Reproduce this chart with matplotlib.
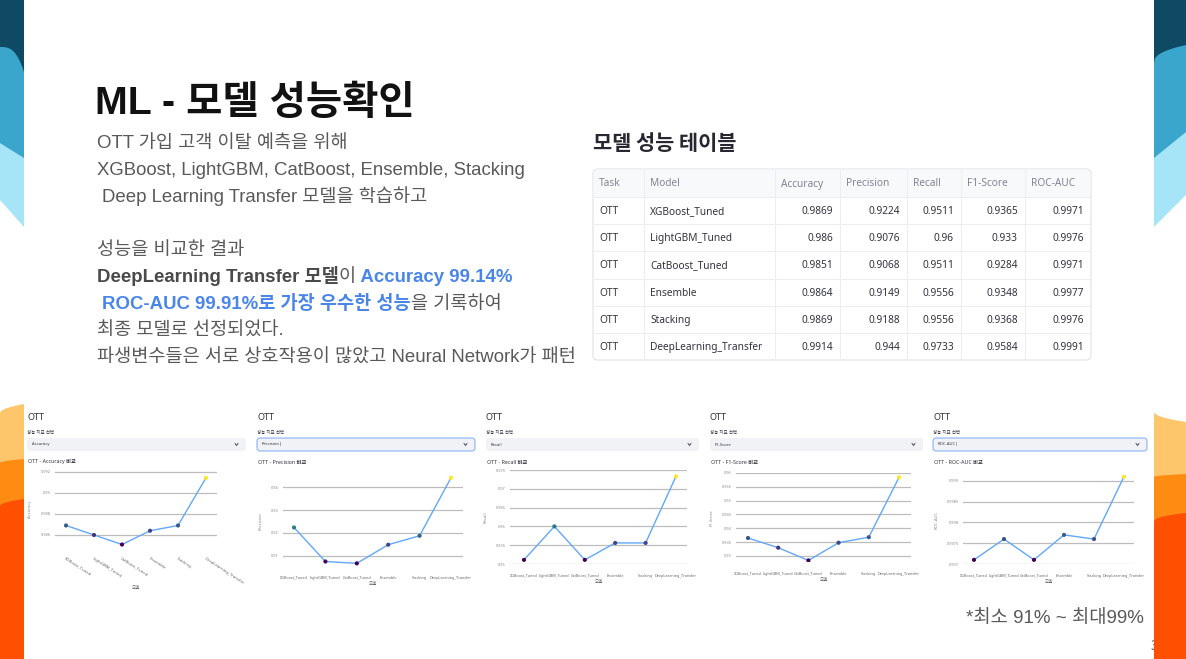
import numpy as np
import matplotlib
matplotlib.use("Agg")
import matplotlib.pyplot as plt
from matplotlib.patches import Polygon, FancyBboxPatch
from matplotlib import cm, colors

W, H = 1186, 659

# ---- data ----
task = "OTT"
models = ["XGBoost_Tuned", "LightGBM_Tuned", "CatBoost_Tuned", "Ensemble",
          "Stacking", "DeepLearning_Transfer"]
accuracy = [0.9869, 0.986, 0.9851, 0.9864, 0.9869, 0.9914]
precision = [0.9224, 0.9076, 0.9068, 0.9149, 0.9188, 0.944]
recall = [0.9511, 0.96, 0.9511, 0.9556, 0.9556, 0.9733]
f1_score = [0.9365, 0.933, 0.9284, 0.9348, 0.9368, 0.9584]
roc_auc = [0.9971, 0.9976, 0.9971, 0.9977, 0.9976, 0.9991]
columns = ["Task", "Model", "Accuracy", "Precision", "Recall", "F1-Score", "ROC-AUC"]
acc_ticks = [0.986, 0.988, 0.99, 0.992]
prec_ticks = [0.91, 0.92, 0.93, 0.94]
rec_ticks = [0.95, 0.955, 0.96, 0.965, 0.97, 0.975]
f1_ticks = [0.93, 0.935, 0.94, 0.945, 0.95, 0.955, 0.96]
roc_ticks = [0.997, 0.9975, 0.998, 0.9985, 0.999]

GRAY = "#595959"
BLUE = "#4a86e8"
KFONT = ["Liberation Sans", "Noto Sans CJK KR"]
plt.rcParams["font.family"] = ["Noto Sans", "Noto Sans CJK KR", "DejaVu Sans"]

fig = plt.figure(figsize=(W / 100, H / 100), dpi=100)
bg = fig.add_axes([0, 0, 1, 1])
bg.set_xlim(0, W)
bg.set_ylim(H, 0)
bg.axis("off")


# ---- decorative corner strips ----
def curve(xa, ya, xb, yb, k, n=40):
    t = np.linspace(0, 1, n)
    return xa + (xb - xa) * t, ya + (yb - ya) * t ** k


def strip(xa, ya, xb, yb, k, color, edge):
    cx, cy = curve(xa, ya, xb, yb, k)
    pts = [(xa, edge), (xb, edge)] + list(zip(cx[::-1], cy[::-1]))
    bg.add_patch(Polygon(pts, closed=True, fc=color, ec="none", zorder=5))


strip(0, 200, 24, 227, 1, "#a6e4f8", 0)
strip(0, 143, 24, 158, 1, "#3ba6cb", 0)
strip(0, 47, 24, 72, 3, "#0e4a63", 0)
strip(1154, 227, 1186, 195, 1, "#a6e4f8", 0)
strip(1154, 158, 1186, 132, 1, "#3ba6cb", 0)
strip(1154, 63, 1186, 45, 0.4, "#0e4a63", 0)
strip(0, 413, 24, 404, 0.5, "#fec66a", H)
strip(0, 463, 24, 459, 0.5, "#ff8c12", H)
strip(0, 506, 24, 499, 0.5, "#ff4f00", H)
strip(1154, 412, 1186, 422, 0.5, "#fec66a", H)
strip(1154, 477, 1186, 474, 0.5, "#ff8c12", H)
strip(1154, 522, 1186, 513, 0.4, "#ff4f00", H)

# ---- title and body text ----
bg.text(95, 114, "ML - 모델 성능확인", family=KFONT, weight="bold", size=28.4,
        color="#111111", va="baseline")

lines = [
    [("OTT 가입 고객 이탈 예측을 위해", "normal", GRAY)],
    [("XGBoost, LightGBM, CatBoost, Ensemble, Stacking", "normal", GRAY)],
    [("Deep Learning Transfer 모델을 학습하고", "normal", GRAY)],
    [],
    [("성능을 비교한 결과", "normal", GRAY)],
    [("DeepLearning Transfer 모델", "bold", "#4a4a4a"), ("이", "normal", GRAY),
     (" Accuracy 99.14%", "bold", BLUE)],
    [("ROC-AUC 99.91%로 가장 우수한 성능", "bold", BLUE), ("을 기록하여", "normal", GRAY)],
    [("최종 모델로 선정되었다.", "normal", GRAY)],
    [("파생변수들은 서로 상호작용이 많았고 Neural Network가 패턴", "normal", GRAY)],
]
line_x = [97, 97, 102, 97, 97, 97, 102, 97, 97]
renderer = fig.canvas.get_renderer()
for i, segs in enumerate(lines):
    x = line_x[i]
    y = 148 + i * 26.8
    for s, w, c in segs:
        t = bg.text(x, y, s, family=KFONT, weight=w, color=c, size=13.4, va="baseline")
        x += t.get_window_extent(renderer).width

# ---- table ----
bg.text(593, 150, "모델 성능 테이블", family=["Noto Sans CJK KR"], weight="bold",
        size=15, color="#262730", va="baseline")
col_x = [593, 644, 775, 840, 907, 961, 1025, 1091]
ty0, hh, rh = 169, 28, 27.17
ty1 = ty0 + hh + rh * len(models)
bg.add_patch(FancyBboxPatch((col_x[0], ty0), col_x[-1] - col_x[0], ty1 - ty0,
                            boxstyle="round,pad=0,rounding_size=5",
                            fc="white", ec="#e3e5ea", lw=0.9, zorder=2))
bg.add_patch(FancyBboxPatch((col_x[0] + 0.5, ty0 + 0.5), col_x[-1] - col_x[0] - 1, hh,
                            boxstyle="round,pad=0,rounding_size=4",
                            fc="#f8f9fb", ec="none", zorder=2))
for cx in col_x[1:-1]:
    bg.plot([cx, cx], [ty0, ty1], color="#eceef2", lw=0.8, zorder=3)
for r in range(len(models)):
    yy = ty0 + hh + r * rh
    bg.plot([col_x[0], col_x[-1]], [yy, yy], color="#eceef2", lw=0.8, zorder=3)
for j, name in enumerate(columns):
    bg.text(col_x[j] + 6, ty0 + hh / 2 + 3.5, name, size=7.3, color="#808495",
            va="baseline", zorder=4)
table_vals = [accuracy, precision, recall, f1_score, roc_auc]
for r, m in enumerate(models):
    yb = ty0 + hh + r * rh + rh / 2 + 3.5
    bg.text(col_x[0] + 6, yb, task, size=7.3, color="#31333f", va="baseline", zorder=4)
    bg.text(col_x[1] + 6, yb, m, size=7.3, color="#31333f", va="baseline", zorder=4)
    for j, vals in enumerate(table_vals):
        bg.text(col_x[j + 3] - 7, yb, f"{vals[r]:g}", size=7.3, color="#31333f",
                va="baseline", ha="right", zorder=4)

# ---- small metric charts ----
panels = [
    dict(metric="Accuracy", vals=accuracy, ticks=acc_ticks, left=27, right=246,
         box=(55, 217, 471, 548), p=(66, 206), ylim=(0.98477, 0.99205), rot=True, focus=False),
    dict(metric="Precision", vals=precision, ticks=prec_ticks, left=257, right=475,
         box=(283, 463, 475, 566), p=(294, 451), ylim=(0.90565, 0.94522), rot=False, focus=True),
    dict(metric="Recall", vals=recall, ticks=rec_ticks, left=486, right=699,
         box=(510, 687, 470, 564), p=(524, 676), ylim=(0.95, 0.975), rot=False, focus=False),
    dict(metric="F1-Score", vals=f1_score, ticks=f1_ticks, left=710, right=923,
         box=(736, 911, 473, 562), p=(748, 899), ylim=(0.92783, 0.96), rot=False, focus=False),
    dict(metric="ROC-AUC", vals=roc_auc, ticks=roc_ticks, left=933, right=1147,
         box=(963, 1134, 475, 564), p=(974, 1124), ylim=(0.997, 0.99914), rot=False, focus=True),
]

idx = np.arange(len(models))
for pn in panels:
    L, R = pn["left"], pn["right"]
    bg.text(L, 418, task, size=6.5, weight="bold", color="#31333f", va="center")
    bg.text(L, 432, "성능 지표 선택", size=3.2, color="#31333f", va="center")
    bg.add_patch(FancyBboxPatch((L, 438), R - L, 13, boxstyle="round,pad=0,rounding_size=3",
                                fc="#f0f2f6", ec="#8ab4f8" if pn["focus"] else "none",
                                lw=0.8, zorder=2))
    label = pn["metric"] + ("|" if pn["focus"] else "")
    bg.text(L + 5, 444.5, label, size=3, color="#31333f", va="center", zorder=3)
    bg.plot([R - 11, R - 9.5, R - 8], [443.5, 445.5, 443.5], color="#31333f", lw=0.6, zorder=3)
    bg.text(L + 1, 462, f"{task} - {pn['metric']} 비교", size=3.8, weight="bold",
            color="#31333f", va="center")

    x0, x1, y0, y1 = pn["box"]
    ax = fig.add_axes([x0 / W, 1 - y1 / H, (x1 - x0) / W, (y1 - y0) / H])
    ax.patch.set_alpha(0)
    s = (pn["p"][1] - pn["p"][0]) / 5
    ax.set_xlim((x0 - pn["p"][0]) / s, 5 + (x1 - pn["p"][1]) / s)
    ax.set_ylim(*pn["ylim"])
    vals = pn["vals"]
    norm = colors.Normalize(min(vals), max(vals))
    ax.plot(idx, vals, color="#62a8f7", lw=1.0, zorder=3)
    ax.scatter(idx, vals, c=[cm.viridis(norm(v)) for v in vals], s=9, zorder=4,
               edgecolors="none")
    ax.set_yticks(pn["ticks"])
    ax.set_yticklabels([f"{t:g}" for t in pn["ticks"]])
    for t in pn["ticks"]:
        ax.axhline(t, color="#bdbdbd", lw=0.9, zorder=1)
    ax.set_xticks(idx)
    if pn["rot"]:
        ax.set_xticklabels(models, rotation=-33, ha="left", va="top",
                           rotation_mode="anchor", size=3, color="#666666")
        ax.tick_params(axis="x", pad=6)
        ax.set_xlabel("모델", size=3.2, color="#666666", labelpad=0)
    else:
        ax.set_xticklabels(models, size=2.7, color="#666666")
        ax.tick_params(axis="x", pad=7)
        ax.set_xlabel("모델", size=3.2, color="#666666", labelpad=1)
    ax.tick_params(axis="y", labelsize=2.8, labelcolor="#888888", pad=3)
    ax.tick_params(length=0)
    ax.set_ylabel(pn["metric"], size=3, color="#888888", labelpad=6)
    for sp in ax.spines.values():
        sp.set_visible(False)

# ---- footnote & page number ----
bg.text(966, 619, "*최소 91% ~ 최대99%", family=KFONT, size=13.5, color=GRAY, va="center")
bg.text(1150, 646, "3", size=10, color=GRAY, va="center", zorder=1)

fig.savefig("out.png", dpi=100)
plt.close(fig)
